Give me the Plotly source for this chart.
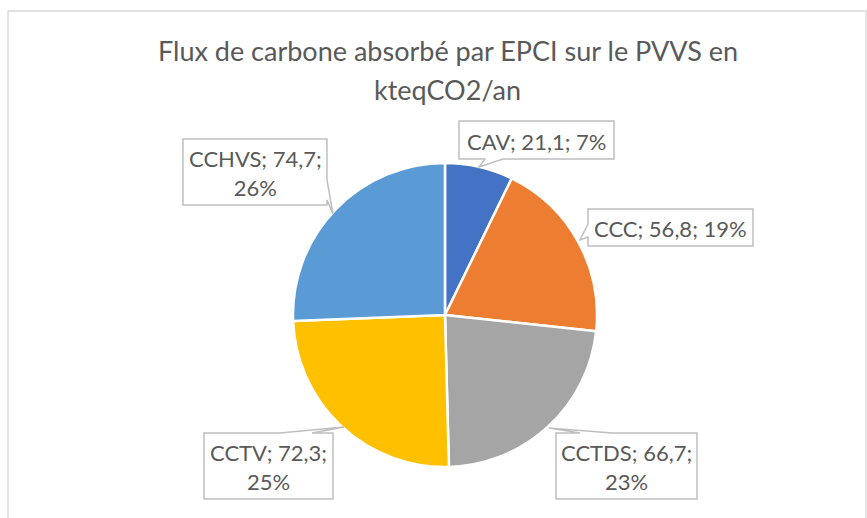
import plotly.graph_objects as go

# ---- data ----
categories = ["CAV", "CCC", "CCTDS", "CCTV", "CCHVS"]
values = [21.1, 56.8, 66.7, 72.3, 74.7]
colors = ["#4472C4", "#ED7D31", "#A5A5A5", "#FFC000", "#5B9BD5"]
title_lines = ["Flux de carbone absorbé par EPCI sur le PVVS en", "kteqCO2/an"]

W, H = 867, 518


def px(x):
    return x / W


def py(y):
    return 1 - y / H


total = sum(values)


def fmt(v):
    return f"{v:.1f}".replace(".", ",")


# callout layout (pixel boxes): left, top, right, bottom, wrap, pointer polygon pts
callouts = {
    "CAV": dict(box=(459, 121, 614, 159), wrap=False,
                edge="bottom", base=(503, 485), tip=(479, 167)),
    "CCC": dict(box=(588, 209, 753, 246), wrap=False,
                edge="left", base=(237, 224), tip=(580, 240)),
    "CCTDS": dict(box=(556, 433, 697, 499), wrap=True,
                  edge="top", base=(580, 612), tip=(549, 428)),
    "CCTV": dict(box=(204, 433, 333, 499), wrap=True,
                 edge="top", base=(280, 312), tip=(344, 427)),
    "CCHVS": dict(box=(183, 139, 327, 205), wrap=True,
                  edge="right", base=(180, 200), tip=(333, 214)),
}


def callout_path(c):
    l, t, r, b = c["box"]
    e = c["edge"]
    b0, b1 = c["base"]
    tx, ty = c["tip"]
    if e == "bottom":
        pts = [(l, t), (r, t), (r, b), (b0, b), (tx, ty), (b1, b), (l, b)]
    elif e == "left":
        pts = [(l, t), (r, t), (r, b), (l, b), (l, b0), (tx, ty), (l, b1)]
    elif e == "top":
        pts = [(l, t), (b0, t), (tx, ty), (b1, t), (r, t), (r, b), (l, b)]
    else:  # right
        pts = [(l, t), (r, t), (r, b0), (tx, ty), (r, b1), (r, b), (l, b)]
    d = "M " + " L ".join(f"{px(x):.5f},{py(y):.5f}" for x, y in pts) + " Z"
    return d


FONT = "Lato, Carlito, sans-serif"

fig = go.Figure()
fig.add_trace(go.Pie(
    labels=categories,
    values=values,
    sort=False,
    direction="clockwise",
    rotation=0,
    marker=dict(colors=colors, line=dict(color="white", width=2.5)),
    textinfo="none",
    hoverinfo="label+value+percent",
    showlegend=False,
    domain=dict(x=[px(293), px(597)], y=[py(467), py(163)]),
))

shapes = [
    dict(type="rect", xref="paper", yref="paper",
         x0=px(8), x1=px(866), y0=py(540), y1=py(11),
         line=dict(color="#D9D9D9", width=1.3), fillcolor="rgba(0,0,0,0)",
         layer="below"),
]
annotations = []
for line, yc in zip(title_lines, (50, 89)):
    annotations.append(dict(
        x=px(448), y=py(yc), xref="paper", yref="paper",
        xanchor="center", yanchor="middle", showarrow=False,
        text=line, font=dict(family=FONT, size=27, color="#595959"),
    ))

for name, v in zip(categories, values):
    c = callouts[name]
    pct = round(v / total * 100)
    sep = "<br>" if c["wrap"] else " "
    txt = f"{name}; {fmt(v)};{sep}{pct}%"
    shapes.append(dict(type="path", path=callout_path(c), xref="paper", yref="paper",
                       line=dict(color="#BFBFBF", width=1.5), fillcolor="white",
                       layer="above"))
    l, t, r, b = c["box"]
    annotations.append(dict(
        x=px((l + r) / 2), y=py((t + b) / 2 + 1), xref="paper", yref="paper",
        xanchor="center", yanchor="middle", showarrow=False, align="center",
        text=txt, font=dict(family=FONT, size=22, color="#595959"),
    ))

fig.update_layout(
    width=W, height=H,
    margin=dict(l=0, r=0, t=0, b=0),
    paper_bgcolor="white",
    plot_bgcolor="white",
    shapes=shapes,
    annotations=annotations,
)

fig.write_html(
    "out.html",
    config={"displayModeBar": False},
    post_script="document.body.style.margin='0px';document.body.style.overflow='hidden';",
)
